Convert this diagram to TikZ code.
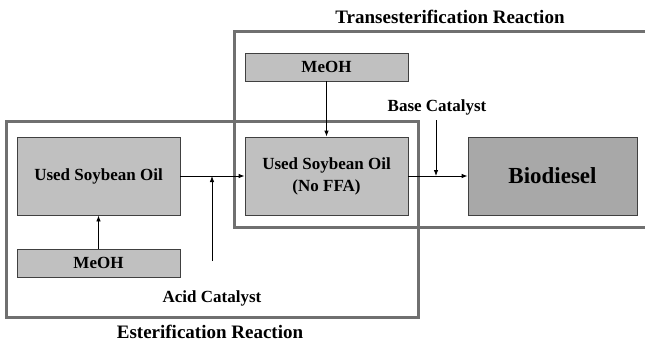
\documentclass[tikz,border=0pt]{standalone}
\usepackage{fontspec}
\setmainfont{Liberation Serif}
\usetikzlibrary{arrows.meta}

\definecolor{framegray}{HTML}{707070}
\definecolor{boxgray}{HTML}{C0C0C0}
\definecolor{darkgray}{HTML}{A8A8A8}

\begin{document}
\begin{tikzpicture}[x=1pt, y=-1pt,
    frame/.style={draw=framegray, line width=3pt},
    unit/.style={draw=black!75, fill=boxgray, line width=0.8pt, minimum width=163pt, minimum height=78pt, inner sep=0pt, align=center, font=\fontsize{17}{22}\selectfont\bfseries},
    feed/.style={unit, minimum height=28pt},
    product/.style={unit, fill=darkgray, minimum width=169pt, font=\fontsize{23}{26}\selectfont\bfseries},
    label/.style={font=\fontsize{17}{19}\selectfont\bfseries},
    title/.style={font=\fontsize{19}{21}\selectfont\bfseries},
    flow/.style={line width=0.8pt, -{Latex[length=6pt, width=4.5pt]}}]
    \useasboundingbox (0,0) rectangle (645,345);

    % reaction frames
    \draw[frame] (6,121) rectangle (418,317);
    \draw[frame] (648,32) -- (234,32) -- (234,227) -- (648,227);
    \node[title] (esttitle) at (210,332) {Esterification Reaction};
    \node[title] (transtitle) at (450,17) {Transesterification Reaction};

    % units
    \node[unit] (oil) at (98.5,176) {Used Soybean Oil};
    \node[feed] (meoha) at (98.5,263) {MeOH};
    \node[unit] (oilnf) at (326.5,176) {Used Soybean Oil\\(No FFA)};
    \node[feed] (meohb) at (326.5,67) {MeOH};
    \node[product] (bio) at (552.5,176) {Biodiesel};

    % catalysts
    \node[label] (acid) at (212,298) {Acid Catalyst};
    \node[label] (base) at (437,107) {Base Catalyst};
    \coordinate (acidin) at (212,261);
    \coordinate (basein) at (436,120);

    % streams
    \draw[flow] (meoha) -- (oil);
    \draw[flow] (oil) -- (oilnf);
    \draw[flow] (acidin) -- (acidin |- oil.east);
    \draw[flow] (meohb) -- (oilnf);
    \draw[flow] (oilnf) -- (bio);
    \draw[flow] (basein) -- (basein |- oilnf.east);
\end{tikzpicture}
\end{document}
